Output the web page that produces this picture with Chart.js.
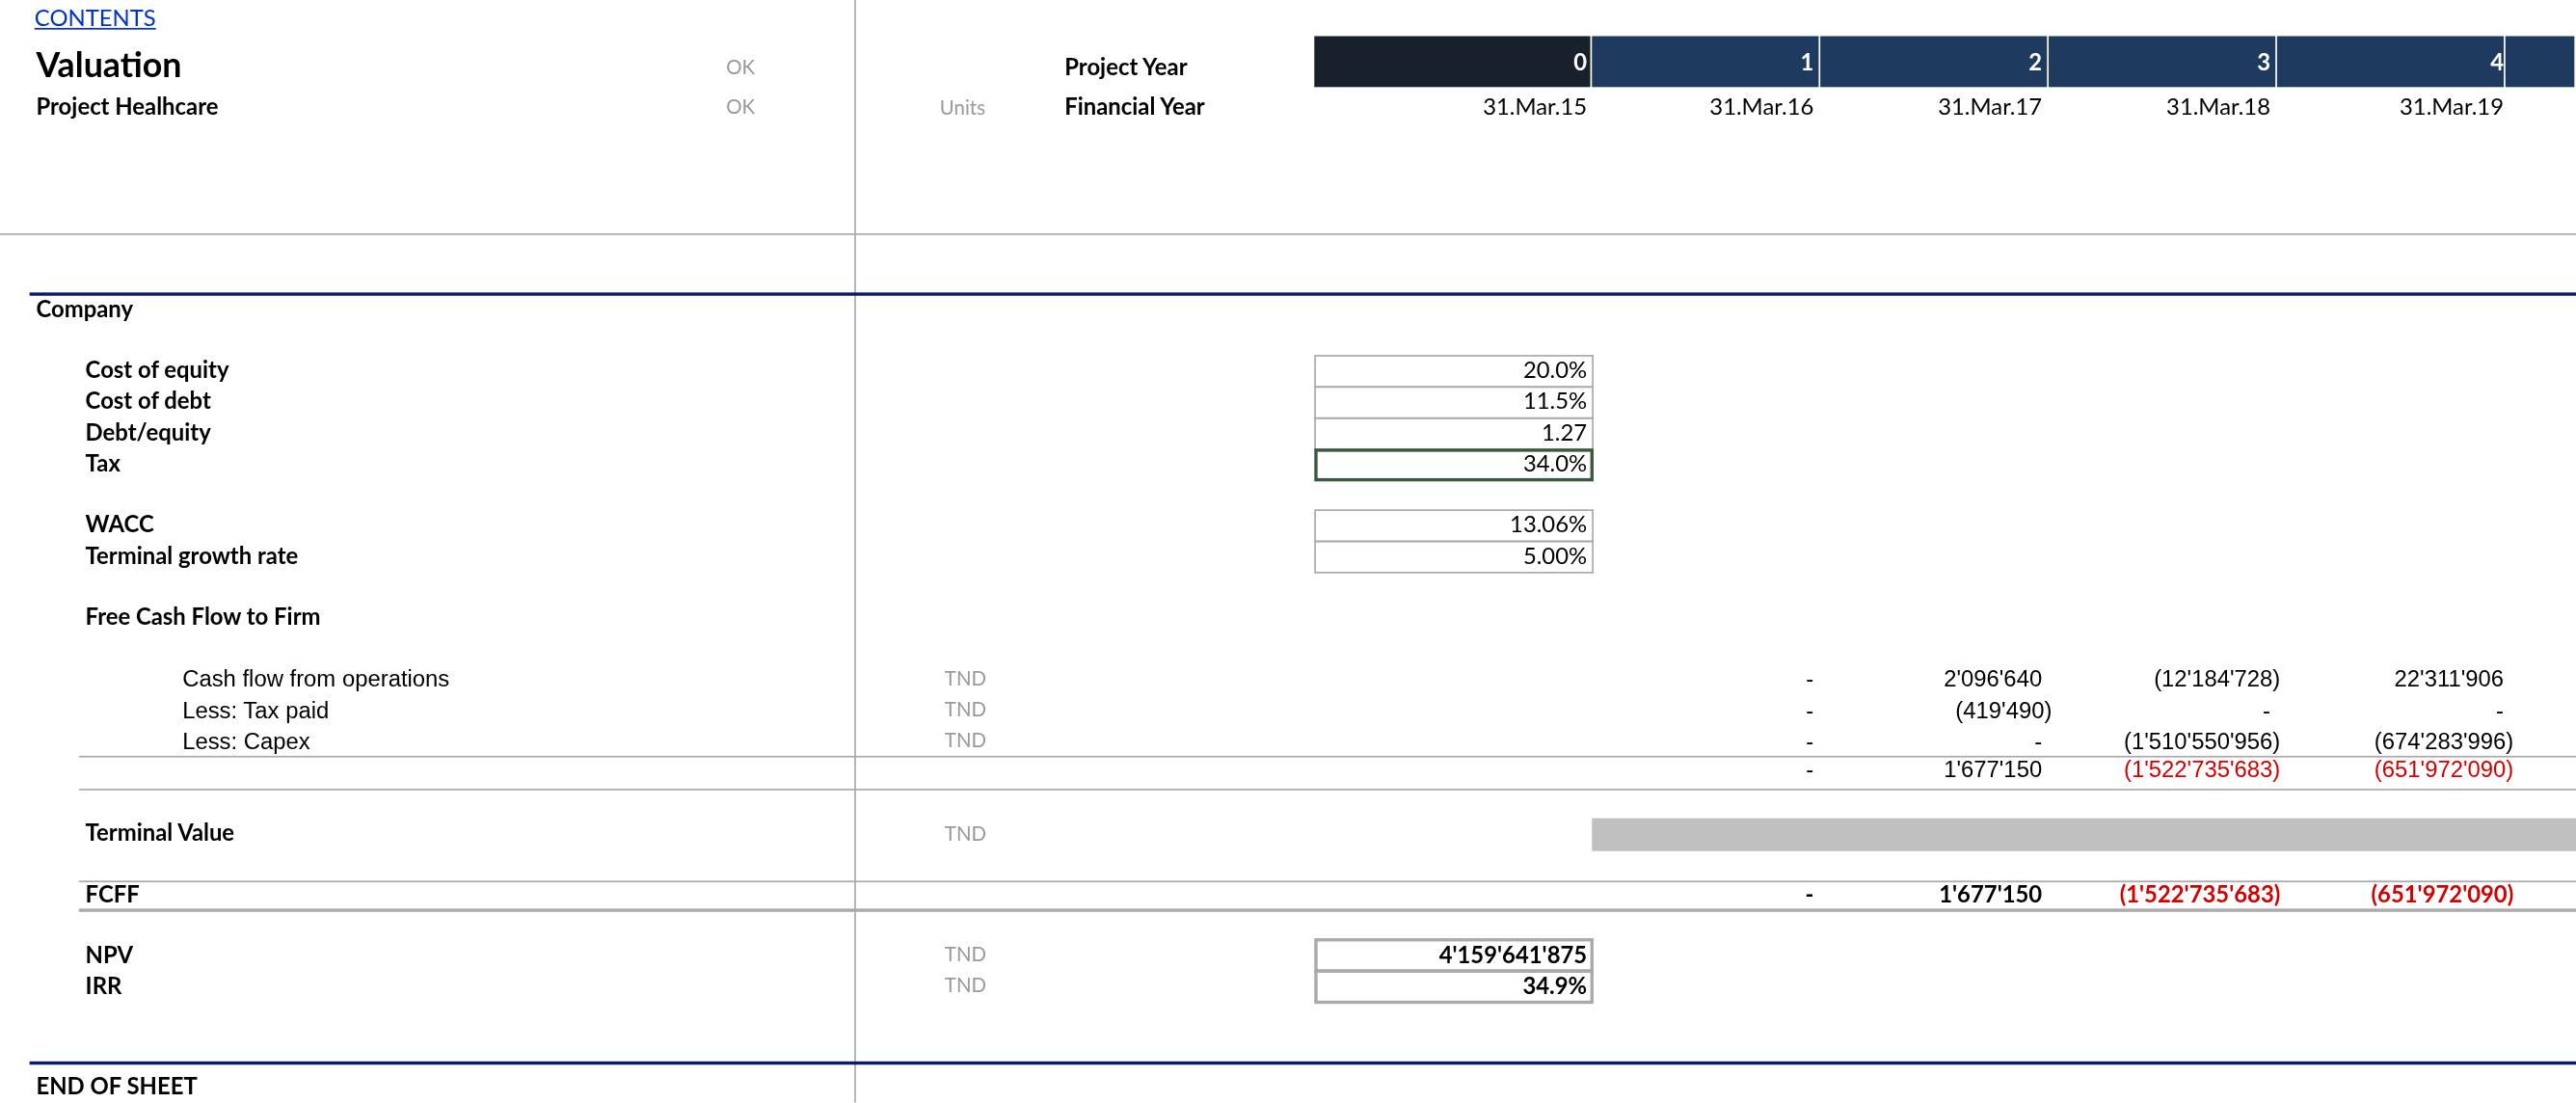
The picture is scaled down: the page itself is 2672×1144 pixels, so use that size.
<!DOCTYPE html>
<html><head><meta charset="utf-8">
<script src="https://cdn.jsdelivr.net/npm/chart.js@4.4.0/dist/chart.umd.min.js"></script>
<style>
html,body{margin:0;padding:0;background:#fff;overflow:hidden}
#sheet{position:absolute;left:0;top:0;width:1568px;height:671px;transform-origin:0 0;transform:scale(1.7041);font-family:Lato,"Open Sans",sans-serif;font-size:14px;color:#000}
.t{position:absolute;white-space:nowrap;line-height:18px;transform:translateY(-9px)}
.r{text-align:right;transform:translate(-100%,-9px)}
.b{font-weight:bold}
.g{color:#999;font-size:12px}
.a{font-family:"Liberation Sans",Arial,sans-serif}
.red{color:#d40000}
.hl{position:absolute;height:0;border-top:1px solid #aaa}
.box{position:absolute;border:1px solid #aaa;box-sizing:border-box}
</style></head><body>
<div id="sheet"></div>
<script>
// header
const years = ['0', '1', '2', '3', '4'];
const dates = ['31.Mar.15', '31.Mar.16', '31.Mar.17', '31.Mar.18', '31.Mar.19'];
// company inputs
const inputLabels = ['Cost of equity', 'Cost of debt', 'Debt/equity', 'Tax'];
const inputValues = ['20.0%', '11.5%', '1.27', '34.0%'];
const rateLabels = ['WACC', 'Terminal growth rate'];
const rateValues = ['13.06%', '5.00%'];
// free cash flow (cols 1..4)
const cfLabels = ['Cash flow from operations', 'Less: Tax paid', 'Less: Capex'];
const cfValues = [
  ['-', "2'096'640", "(12'184'728)", "22'311'906"],
  ['-', "(419'490)", '-', '-'],
  ['-', '-', "(1'510'550'956)", "(674'283'996)"]
];
const cfTotal = ['-', "1'677'150", "(1'522'735'683)", "(651'972'090)"];
const fcff = ['-', "1'677'150", "(1'522'735'683)", "(651'972'090)"];
const npvLabels = ['NPV', 'IRR'];
const npvValues = ["4'159'641'875", '34.9%'];

const S = document.getElementById('sheet');
function txt(x, y, s, cls) { const d = document.createElement('div'); d.className = 't ' + (cls || ''); d.style.left = x + 'px'; d.style.top = y + 'px'; d.textContent = s; S.appendChild(d); return d; }
function div(cls, css) { const d = document.createElement('div'); d.className = cls; Object.assign(d.style, css); S.appendChild(d); return d; }

const colR = [966, 1104, 1243, 1382, 1524];
const colEdge = [800, 969, 1108, 1247, 1386, 1525, 1568];

const c = txt(21, 11, 'CONTENTS'); c.style.color = '#0033cc'; c.style.textDecoration = 'underline';
txt(22, 39, 'Valuation', 'b').style.fontSize = '21px';
txt(22, 65, 'Project Healhcare', 'b');
txt(442, 41, 'OK', 'g'); txt(442, 65, 'OK', 'g');
txt(572, 66, 'Units', 'g');
txt(648, 41, 'Project Year', 'b'); txt(648, 65, 'Financial Year', 'b');
div('', {position: 'absolute', left: '520px', top: '0', width: '1px', height: '671px', background: '#aaa'});

for (let i = 0; i < 6; i++) {
  div('', {position: 'absolute', left: colEdge[i] + 'px', top: '22px', width: (colEdge[i + 1] - colEdge[i] - 1) + 'px', height: '31px', background: i == 0 ? '#18202c' : '#1f3a5f'});
}
years.forEach((y, i) => { const d = txt(colR[i], 38, y, 'r b'); d.style.color = '#fff'; });
dates.forEach((d, i) => txt(colR[i], 65, d, 'r'));

div('hl', {left: '0', top: '142px', width: '1568px'});
div('', {position: 'absolute', left: '18px', top: '178px', width: '1550px', height: '2px', background: '#0a1a6a'});
txt(22, 188, 'Company', 'b');

inputLabels.forEach((l, i) => {
  const y = 225 + i * 19;
  txt(52, y, l, 'b');
  div('box', {left: '800px', top: (y - 9) + 'px', width: '170px', height: '20px', border: i == 3 ? '2px solid #3a5a40' : ''});
  txt(966, y, inputValues[i], 'r');
});
rateLabels.forEach((l, i) => {
  const y = 319 + i * 19;
  txt(52, y, l, 'b');
  div('box', {left: '800px', top: (y - 9) + 'px', width: '170px', height: '20px'});
  txt(966, y, rateValues[i], 'r');
});
txt(52, 375, 'Free Cash Flow to Firm', 'b');

function neg(s) { return s.startsWith('('); }
cfLabels.forEach((l, i) => {
  const y = 413 + i * 19;
  txt(111, y, l, 'a');
  txt(575, y, 'TND', 'g');
  cfValues[i].forEach((v, j) => txt(v.endsWith(')') ? colR[j + 1] + 6 : colR[j + 1], y, v, 'r a'));
});
div('hl', {left: '48px', top: '460px', width: '1520px'});
cfTotal.forEach((v, j) => txt(neg(v) ? colR[j + 1] + 6 : colR[j + 1], 468, v, 'r a' + (neg(v) ? ' red' : '')));
div('hl', {left: '48px', top: '480px', width: '1520px'});

txt(52, 507, 'Terminal Value', 'b');
txt(575, 508, 'TND', 'g');
const cv = document.createElement('canvas');
const wrap = div('', {position: 'absolute', left: '969px', top: '498px', width: '599px', height: '20px'});
wrap.appendChild(cv);

div('hl', {left: '48px', top: '536px', width: '1520px'});
txt(52, 544, 'FCFF', 'b');
fcff.forEach((v, j) => txt(neg(v) ? colR[j + 1] + 6 : colR[j + 1], 544, v, 'r b' + (neg(v) ? ' red' : '')));
div('', {position: 'absolute', left: '48px', top: '553px', width: '1520px', height: '2px', background: '#aaa'});

npvLabels.forEach((l, i) => {
  const y = 581 + i * 19;
  txt(52, y, l, 'b');
  txt(575, y, 'TND', 'g');
  div('box', {left: '800px', top: (y - 10) + 'px', width: '170px', height: '21px', border: '2px solid #aaa'});
  txt(966, y, npvValues[i], 'r b');
});

div('', {position: 'absolute', left: '18px', top: '646px', width: '1550px', height: '2px', background: '#0a1a6a'});
txt(22, 661, 'END OF SHEET', 'b');

// terminal value strip drawn as a floating bar
new Chart(cv, {
  type: 'bar',
  data: {labels: ['Terminal Value'], datasets: [{data: [[0, 1]], backgroundColor: '#c0c0c0', barPercentage: 1, categoryPercentage: 1}]},
  options: {
    indexAxis: 'y', responsive: true, maintainAspectRatio: false, animation: false,
    layout: {padding: 0},
    plugins: {legend: {display: false}, tooltip: {enabled: false}},
    scales: {x: {display: false, min: 0, max: 1}, y: {display: false}}
  }
});
</script>
</body></html>
